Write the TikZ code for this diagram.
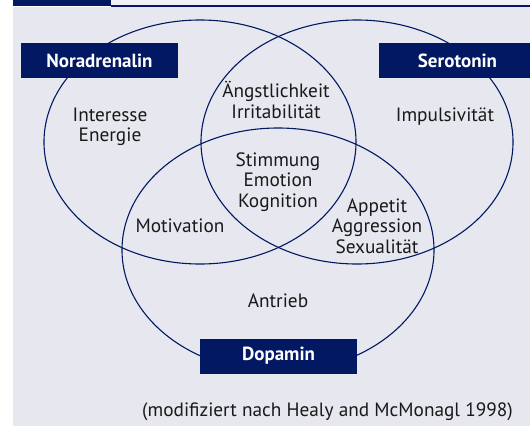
\documentclass[tikz,border=0pt]{standalone}
\usepackage{fontspec}
\setmainfont{PT Sans}
\definecolor{navy}{RGB}{2,24,98}
\definecolor{bg}{RGB}{231,232,239}
\definecolor{strip}{RGB}{240,241,246}
\tikzset{
  ell/.style={draw=navy, line width=1.1pt},
  lab/.style={fill=navy, text=white, font=\bfseries\fontsize{19}{22}\selectfont, minimum width=157pt, minimum height=35pt, inner sep=0pt},
  txt/.style={text=black!90, font=\fontsize{19.3}{20.5}\selectfont, align=center, inner sep=0pt}
}
\begin{document}
\begin{tikzpicture}[x=1pt,y=-1pt]
\useasboundingbox (0,0) rectangle (530,426);
% background
\fill[bg] (13,7) rectangle (530,426);
\fill[strip] (111,0) rectangle (530,5);
\fill[navy] (111,5) rectangle (530,7);
\fill[navy] (13,0) rectangle (111,6);
% ellipses
\draw[ell] (200,142) ellipse [x radius=156pt, y radius=122pt];
\draw[ell] (357,142) ellipse [x radius=156pt, y radius=122pt];
\draw[ell] (278,250) ellipse [x radius=156pt, y radius=122pt];
% label boxes
\begin{scope}
\clip (0,0) rectangle (530,426);
\node[lab] (nor) at (99.5,60.5) {Noradrenalin};
\node[lab] (ser) at (457.5,60.5) {Serotonin};
\node[lab] (dop) at (278.5,356) {Dopamin};
\end{scope}
% texts
\node[txt] (t1) at (110,127) {Interesse\\Energie};
\node[txt] (t2) at (276,100) {Ängstlichkeit\\Irritabilität};
\node[txt] (t3) at (445,117) {Impulsivität};
\node[txt] (t4) at (278,182) {Stimmung\\Emotion\\Kognition};
\node[txt] (t5) at (180,226) {Motivation};
\node[txt] (t6) at (377,226) {Appetit\\Aggression\\Sexualität};
\node[txt] (t7) at (278,301) {Antrieb};
\node[txt] (cap) at (327.5,412) {(modifiziert nach Healy and McMonagl 1998)};
\end{tikzpicture}
\end{document}
